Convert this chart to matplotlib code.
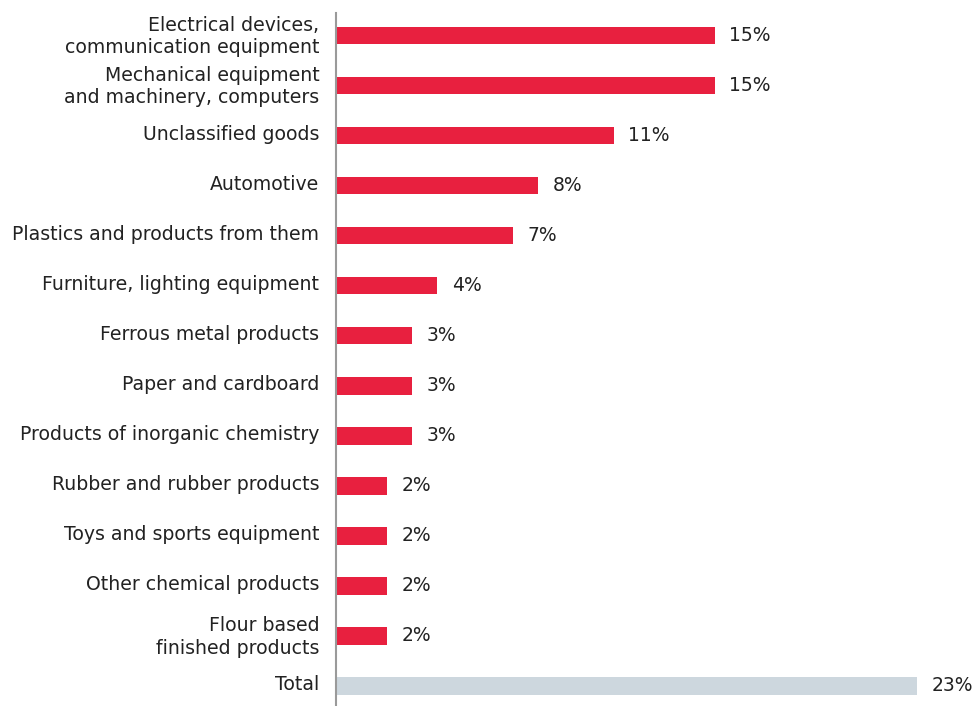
import matplotlib
matplotlib.use("Agg")
import matplotlib.pyplot as plt
from matplotlib.transforms import ScaledTranslation

categories = [
    "Electrical devices,\ncommunication equipment",
    "Mechanical equipment\nand machinery, computers",
    "Unclassified goods",
    "Automotive",
    "Plastics and products from them",
    "Furniture, lighting equipment",
    "Ferrous metal products",
    "Paper and cardboard",
    "Products of inorganic chemistry",
    "Rubber and rubber products",
    "Toys and sports equipment",
    "Other chemical products",
    "Flour based\nfinished products",
    "Total",
]
shares = [15, 15, 11, 8, 7, 4, 3, 3, 3, 2, 2, 2, 2, 23]

RED = "#e8203f"
GREY = "#cdd7de"
TEXT = "#222222"

plt.rcParams["font.family"] = ["DejaVu Sans"]

W, H = 976, 706
fig = plt.figure(figsize=(W / 100, H / 100), dpi=100)
ax = fig.add_axes([336 / W, 0, 1 - 336 / W, (H - 13) / H])

colors = [RED] * (len(shares) - 1) + [GREY]
pos = list(range(len(shares)))
ax.barh(pos, shares, height=0.35, color=colors)

for y, v in zip(pos, shares):
    ax.text(v + 0.58, y, f"{v}%", va="center", ha="left",
            fontsize=13.5, color=TEXT)

ax.set_yticks(pos)
ax.set_yticklabels(categories, fontsize=13.6, color=TEXT, linespacing=1.25)
ax.tick_params(axis="y", length=0, pad=12)
ax.set_xticks([])
ax.set_xlim(0, 25.34)
ax.set_ylim(len(shares) - 1 + 0.4, -0.45)

# nudge category labels up a little
lift = ScaledTranslation(0, 3 / 100, fig.dpi_scale_trans)
for lab in ax.get_yticklabels():
    lab.set_transform(lab.get_transform() + lift)

for s in ["top", "right", "bottom"]:
    ax.spines[s].set_visible(False)
ax.spines["left"].set_color("#9a9a9a")
ax.spines["left"].set_linewidth(1.5)

fig.savefig("out.png", dpi=100)
